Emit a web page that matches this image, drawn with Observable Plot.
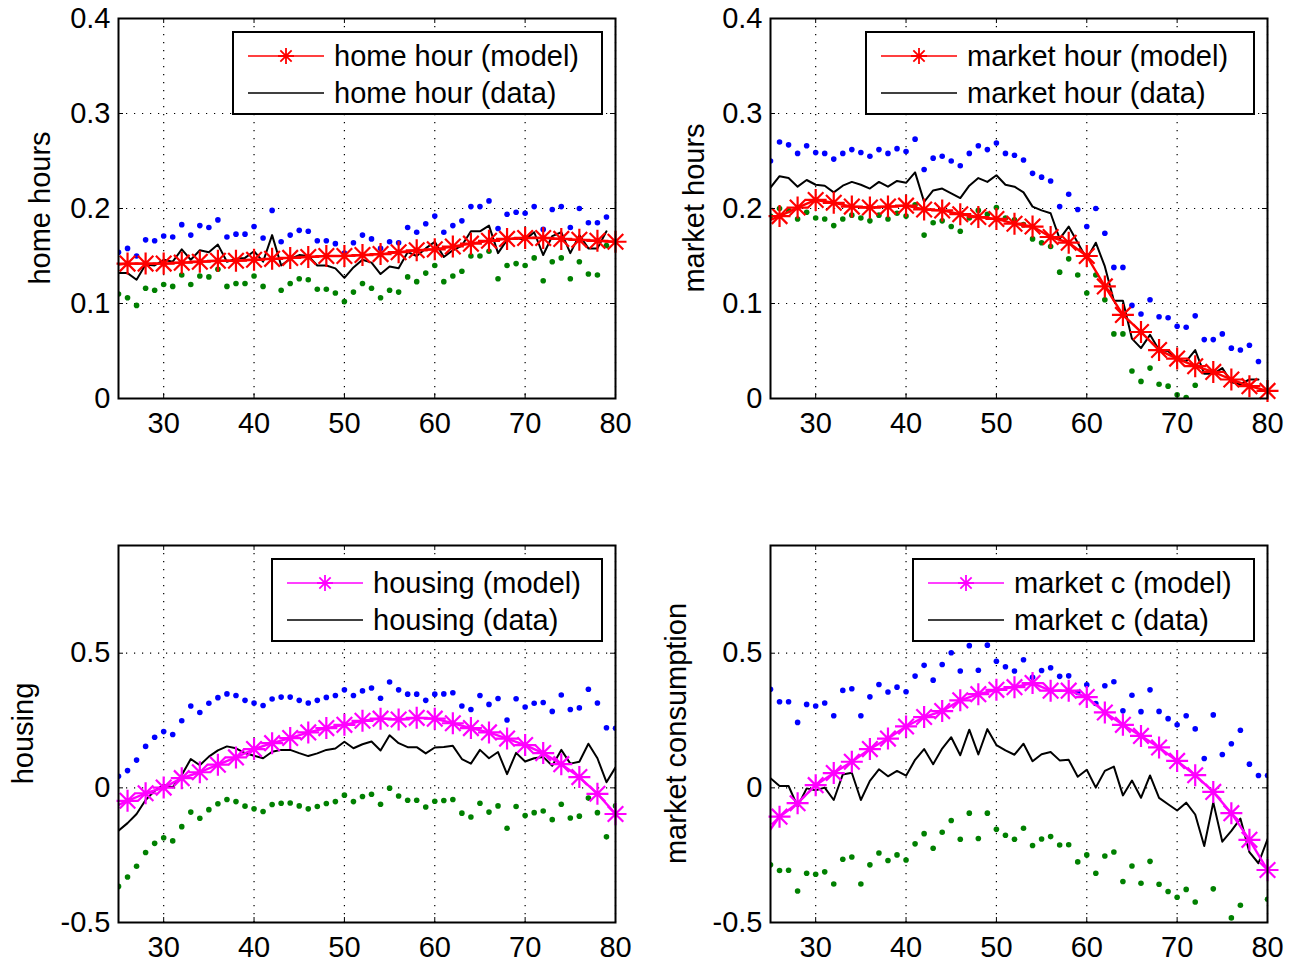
<!DOCTYPE html>
<html><head><meta charset="utf-8">
<script src="https://cdn.jsdelivr.net/npm/d3@7"></script>
<script src="https://cdn.jsdelivr.net/npm/@observablehq/plot@0.6"></script>
<style>
body{margin:0;background:#fff;}
#root{position:relative;width:1304px;height:967px;overflow:hidden;background:#fff;}
#root>div{position:absolute;}
</style></head><body><div id="root"></div>
<script>
// ---------- ages ----------
const agesTop = [25,26,27,28,29,30,31,32,33,34,35,36,37,38,39,40,41,42,43,44,45,46,47,48,49,50,51,52,53,54,55,56,57,58,59,60,61,62,63,64,65,66,67,68,69,70,71,72,73,74,75,76,77,78,79];
const agesBottom = [25,26,27,28,29,30,31,32,33,34,35,36,37,38,39,40,41,42,43,44,45,46,47,48,49,50,51,52,53,54,55,56,57,58,59,60,61,62,63,64,65,66,67,68,69,70,71,72,73,74,75,76,77,78,79,80];
const modelAges = [25,26,28,30,32,34,36,38,40,42,44,46,48,50,52,54,56,58,60,62,64,66,68,70,72,74,76,78,80];

// ---------- home hours ----------
const homeData = [0.132,0.132,0.125,0.141,0.140,0.146,0.144,0.157,0.146,0.156,0.154,0.162,0.144,0.147,0.148,0.155,0.144,0.172,0.140,0.147,0.151,0.150,0.140,0.140,0.137,0.127,0.138,0.146,0.143,
  0.131,0.139,0.137,0.154,0.150,0.158,0.165,0.149,0.156,0.161,0.176,0.176,0.182,0.153,0.167,0.169,0.167,0.175,0.151,0.171,0.175,0.153,0.172,0.158,0.158,0.176];
const homeUpper = [0.154,0.158,0.150,0.167,0.166,0.171,0.170,0.183,0.172,0.182,0.180,0.188,0.170,0.173,0.173,0.181,0.169,0.198,0.165,0.172,0.177,0.176,0.166,0.166,0.163,0.153,0.164,0.172,0.168,
  0.158,0.165,0.164,0.180,0.175,0.184,0.192,0.175,0.182,0.187,0.202,0.202,0.208,0.179,0.194,0.196,0.195,0.202,0.178,0.199,0.202,0.180,0.200,0.185,0.185,0.191];
const homeLower = [0.110,0.106,0.098,0.116,0.114,0.120,0.118,0.130,0.120,0.129,0.128,0.136,0.118,0.121,0.121,0.129,0.118,0.147,0.114,0.121,0.126,0.125,0.115,0.115,0.111,0.102,0.112,0.121,0.116,
  0.106,0.114,0.112,0.128,0.123,0.132,0.140,0.123,0.129,0.134,0.150,0.150,0.155,0.126,0.140,0.142,0.140,0.148,0.124,0.144,0.148,0.126,0.144,0.131,0.130,0.161];
const homeModel = [0.141,0.142,0.142,0.142,0.143,0.144,0.145,0.145,0.146,0.147,0.148,0.149,0.150,0.150,0.151,0.152,0.154,0.156,0.157,0.160,0.163,0.166,0.168,0.169,0.169,0.168,0.167,0.166,0.165];

// ---------- market hours ----------
const marketData = [0.222,0.234,0.232,0.223,0.230,0.225,0.224,0.217,0.224,0.228,0.225,0.221,0.228,0.223,0.229,0.227,0.238,0.207,0.219,0.221,0.216,0.211,0.224,0.232,0.228,0.235,0.225,0.223,
  0.217,0.202,0.198,0.195,0.168,0.181,0.164,0.147,0.164,0.139,0.103,0.103,0.063,0.053,0.067,0.051,0.050,0.041,0.039,0.051,0.026,0.026,0.032,0.017,0.015,0.020,0.020];
const marketUpper = [0.250,0.270,0.267,0.258,0.266,0.259,0.258,0.252,0.258,0.262,0.259,0.255,0.262,0.258,0.263,0.260,0.273,0.241,0.253,0.255,0.250,0.245,0.258,0.266,0.262,0.269,0.258,0.256,
  0.251,0.237,0.233,0.229,0.202,0.215,0.199,0.181,0.200,0.174,0.138,0.138,0.098,0.089,0.104,0.086,0.085,0.076,0.075,0.087,0.062,0.062,0.068,0.053,0.051,0.056,0.039];
const marketLower = [0.192,0.200,0.198,0.189,0.196,0.190,0.189,0.182,0.189,0.193,0.190,0.187,0.193,0.189,0.195,0.192,0.204,0.172,0.185,0.187,0.181,0.176,0.190,0.198,0.194,0.201,0.190,0.188,
  0.183,0.168,0.164,0.160,0.133,0.147,0.130,0.111,0.130,0.104,0.068,0.068,0.029,0.018,0.032,0.015,0.013,0.004,0.001,0.014,null,null,null,null,null,null,null];
const marketModel = [0.188,0.192,0.201,0.209,0.206,0.202,0.201,0.202,0.203,0.199,0.198,0.194,0.191,0.189,0.184,0.181,0.170,0.164,0.150,0.118,0.088,0.070,0.051,0.042,0.034,0.028,0.020,0.013,0.008];

// ---------- housing ----------
const housingData = [-0.159,-0.131,-0.097,-0.045,-0.011,0.011,0.002,0.048,0.107,0.084,0.116,0.139,0.154,0.147,0.129,0.119,0.110,0.134,0.141,0.141,0.129,0.118,0.128,0.141,0.146,0.171,0.147,0.162,0.172,
  0.139,0.195,0.166,0.151,0.151,0.128,0.150,0.152,0.156,0.107,0.090,0.141,0.110,0.133,0.051,0.130,0.098,0.110,0.115,0.082,0.141,0.090,0.097,0.164,0.110,0.021,0.076];
const housingUpper = [0.043,0.064,0.103,0.154,0.188,0.209,0.198,0.249,0.304,0.280,0.314,0.335,0.349,0.343,0.325,0.315,0.306,0.330,0.337,0.337,0.325,0.315,0.325,0.336,0.343,0.364,0.343,0.360,0.371,
  0.333,0.393,0.364,0.348,0.348,0.325,0.348,0.349,0.353,0.304,0.291,0.343,0.310,0.332,0.252,0.331,0.300,0.314,0.317,0.284,0.345,0.291,0.297,0.366,0.315,0.223,0.221];
const housingLower = [-0.366,-0.331,-0.291,-0.240,-0.206,-0.185,-0.197,-0.144,-0.090,-0.113,-0.081,-0.059,-0.043,-0.051,-0.068,-0.078,-0.088,-0.062,-0.057,-0.056,-0.067,-0.078,-0.069,-0.058,-0.051,-0.027,-0.051,-0.032,-0.024,
  -0.061,-0.001,-0.030,-0.046,-0.046,-0.071,-0.050,-0.047,-0.043,-0.094,-0.108,-0.057,-0.090,-0.067,-0.150,-0.069,-0.103,-0.092,-0.086,-0.118,-0.061,-0.112,-0.105,-0.038,-0.092,-0.182,-0.067];
const housingModel = [-0.063,-0.048,-0.020,0.001,0.036,0.058,0.086,0.113,0.144,0.166,0.185,0.206,0.222,0.234,0.249,0.257,0.254,0.260,0.257,0.240,0.222,0.206,0.183,0.159,0.129,0.088,0.040,-0.022,-0.097];

// ---------- market consumption ----------
const consData = [0.036,0.007,0.007,-0.069,-0.002,-0.009,0.001,-0.045,0.050,0.056,-0.045,0.026,0.069,0.043,0.063,0.045,0.104,0.144,0.088,0.146,0.188,0.121,0.216,0.124,0.218,0.159,0.139,0.123,
  0.164,0.099,0.125,0.133,0.102,0.104,0.041,0.067,0.001,0.063,0.079,-0.028,0.027,-0.037,0.046,-0.037,-0.061,-0.084,-0.055,-0.099,-0.216,-0.054,-0.200,-0.160,-0.114,-0.239,-0.280,-0.191];
const consUpper = [0.366,0.320,0.320,0.243,0.310,0.304,0.315,0.268,0.362,0.368,0.268,0.338,0.384,0.356,0.374,0.357,0.415,0.455,0.400,0.458,0.502,0.434,0.528,0.437,0.530,0.470,0.450,0.434,
  0.476,0.411,0.436,0.446,0.414,0.416,0.354,0.383,0.313,0.379,0.394,0.286,0.344,0.283,0.364,0.284,0.257,0.234,0.268,0.219,0.109,0.271,0.124,0.164,0.214,0.088,0.046,0.046];
const consLower = [-0.286,-0.307,-0.306,-0.383,-0.317,-0.321,-0.312,-0.357,-0.265,-0.257,-0.357,-0.286,-0.242,-0.270,-0.249,-0.268,-0.208,-0.170,-0.224,-0.165,-0.121,-0.191,-0.094,-0.188,-0.094,-0.154,-0.176,-0.191,
  -0.150,-0.214,-0.190,-0.181,-0.212,-0.211,-0.275,-0.249,-0.317,-0.253,-0.238,-0.348,-0.290,-0.354,-0.273,-0.358,-0.385,-0.406,-0.377,-0.424,null,-0.375,null,-0.483,-0.436,null,null,-0.414];
const consModel = [-0.154,-0.107,-0.057,0.010,0.055,0.097,0.144,0.183,0.228,0.263,0.285,0.325,0.348,0.364,0.374,0.389,0.361,0.361,0.337,0.280,0.234,0.193,0.150,0.100,0.047,-0.015,-0.094,-0.193,-0.305];

// ---------- ticks & labels ----------
const xTicks = [30,40,50,60,70,80];
const yTicksTop = [0,0.1,0.2,0.3,0.4];
const yTicksBottom = [-0.5,0,0.5];
const FONT = "'Liberation Sans', Arial, Helvetica, sans-serif";
const FS = 29;

const asterisk = {
  draw(ctx, size) {
    const r = Math.sqrt(size / Math.PI), d = r * Math.SQRT1_2;
    ctx.moveTo(-r, 0); ctx.lineTo(r, 0);
    ctx.moveTo(0, -r); ctx.lineTo(0, r);
    ctx.moveTo(-d, -d); ctx.lineTo(d, d);
    ctx.moveTo(-d, d); ctx.lineTo(d, -d);
  }
};

function rows(ages, vals) {
  return ages.map((a, i) => ({age: a, v: vals[i]})).filter(d => d.v != null);
}

function panel(cfg) {
  const {left, top, W, H, mL, mR, mT, mB, yDomain, yTicks, dAges, dVals, up, lo, mVals, mColor,
         ylabel, ylabelX, legendW, names} = cfg;
  const fW = W - mL - mR, fH = H - mT - mB;
  const dataRows = rows(dAges, dVals);
  const upRows = rows(dAges, up);
  const loRows = rows(dAges, lo);
  const modelRows = rows(modelAges, mVals);
  const starRows = modelRows.filter(d => d.age % 2 === 0);
  const chart = Plot.plot({
    width: W, height: H, marginLeft: mL, marginRight: mR, marginTop: mT, marginBottom: mB,
    x: {domain: [25, 80]},
    y: {domain: yDomain},
    style: {fontFamily: FONT, fontSize: FS + "px", color: "black", background: "white", overflow: "visible"},
    marks: [
      Plot.gridX(xTicks, {stroke: "black", strokeOpacity: 1, strokeWidth: 1.2, strokeDasharray: "1.2,6.8"}),
      Plot.gridY(yTicks, {stroke: "black", strokeOpacity: 1, strokeWidth: 1.2, strokeDasharray: "1.2,6.8"}),
      Plot.dot(upRows, {x: "age", y: "v", r: 2.8, fill: "#0000ff", stroke: null, clip: true}),
      Plot.dot(loRows, {x: "age", y: "v", r: 2.8, fill: "#008000", stroke: null, clip: true}),
      Plot.line(dataRows, {x: "age", y: "v", stroke: "black", strokeWidth: 2, clip: true}),
      Plot.line(modelRows, {x: "age", y: "v", stroke: mColor, strokeWidth: 2.4, clip: true}),
      Plot.dot(starRows, {x: "age", y: "v", symbol: asterisk, r: 11, stroke: mColor, strokeWidth: 2.2, fill: "none"}),
      Plot.tickY(yTicks, {y: d => d, insetRight: fW - 5, stroke: "black", strokeWidth: 1}),
      Plot.tickY(yTicks, {y: d => d, insetLeft: fW - 5, stroke: "black", strokeWidth: 1}),
      Plot.tickX(xTicks, {x: d => d, insetTop: fH - 5, stroke: "black", strokeWidth: 1}),
      Plot.tickX(xTicks, {x: d => d, insetBottom: fH - 5, stroke: "black", strokeWidth: 1}),
      Plot.axisX(xTicks, {anchor: "bottom", tickSize: 0, tickPadding: 14, fontSize: FS, label: null, tickFormat: d => String(d)}),
      Plot.axisY(yTicks, {anchor: "left", tickSize: 0, tickPadding: 8, fontSize: FS, label: null, tickFormat: d => String(d)}),
      Plot.frame({stroke: "black", strokeWidth: 2})
    ]
  });
  const holder = document.createElement("div");
  holder.style.left = left + "px";
  holder.style.top = top + "px";
  holder.appendChild(chart);
  document.getElementById("root").appendChild(holder);

  const svg = d3.select(chart);
  // y label
  svg.append("text")
    .attr("transform", `translate(${ylabelX},${mT + fH / 2}) rotate(-90)`)
    .attr("text-anchor", "middle")
    .attr("font-family", FONT).attr("font-size", FS).attr("fill", "black")
    .text(ylabel);
  // legend
  const bx = W - mR - 13 - legendW, by = mT + 14, bh = 82;
  const g = svg.append("g").attr("text-anchor", "start");
  g.append("rect").attr("x", bx).attr("y", by).attr("width", legendW).attr("height", bh)
    .attr("fill", "white").attr("stroke", "black").attr("stroke-width", 2);
  const r1 = by + 24, r2 = by + 61;
  g.append("line").attr("x1", bx + 15).attr("x2", bx + 91).attr("y1", r1).attr("y2", r1)
    .attr("stroke", mColor).attr("stroke-width", 1.6);
  const s = 8;
  const dd = s * Math.SQRT1_2;
  g.append("path")
    .attr("d", `M${bx + 53 - s},${r1}h${2 * s}M${bx + 53},${r1 - s}v${2 * s}M${bx + 53 - dd},${r1 - dd}l${2 * dd},${2 * dd}M${bx + 53 - dd},${r1 + dd}l${2 * dd},${-2 * dd}`)
    .attr("stroke", mColor).attr("stroke-width", 1.8).attr("fill", "none");
  g.append("line").attr("x1", bx + 15).attr("x2", bx + 91).attr("y1", r2).attr("y2", r2)
    .attr("stroke", "black").attr("stroke-width", 1.6);
  g.append("text").attr("x", bx + 101).attr("y", r1 + 10).attr("text-anchor", "start")
    .attr("font-family", FONT).attr("font-size", FS).attr("fill", "black").text(names[0]);
  g.append("text").attr("x", bx + 101).attr("y", r2 + 10).attr("text-anchor", "start")
    .attr("font-family", FONT).attr("font-size", FS).attr("fill", "black").text(names[1]);
}

const topCfg = {W: 652, H: 470, mL: 118, mR: 37, mT: 18, mB: 72, yDomain: [0, 0.4], yTicks: yTicksTop, dAges: agesTop};
const botCfg = {W: 652, H: 477, mL: 118, mR: 37, mT: 55, mB: 45, yDomain: [-0.5, 0.9], yTicks: yTicksBottom, dAges: agesBottom};

panel({...topCfg, left: 0, top: 0, dVals: homeData, up: homeUpper, lo: homeLower, mVals: homeModel, mColor: "#ff0000",
  ylabel: "home hours", ylabelX: 50, legendW: 369, names: ["home hour (model)", "home hour (data)"]});
panel({...topCfg, left: 652, top: 0, dVals: marketData, up: marketUpper, lo: marketLower, mVals: marketModel, mColor: "#ff0000",
  ylabel: "market hours", ylabelX: 52, legendW: 388, names: ["market hour (model)", "market hour (data)"]});
panel({...botCfg, left: 0, top: 490, dVals: housingData, up: housingUpper, lo: housingLower, mVals: housingModel, mColor: "#ff00ff",
  ylabel: "housing", ylabelX: 33, legendW: 330, names: ["housing (model)", "housing (data)"]});
panel({...botCfg, left: 652, top: 490, dVals: consData, up: consUpper, lo: consLower, mVals: consModel, mColor: "#ff00ff",
  ylabel: "market consumption", ylabelX: 34, legendW: 341, names: ["market c (model)", "market c (data)"]});
</script></body></html>
